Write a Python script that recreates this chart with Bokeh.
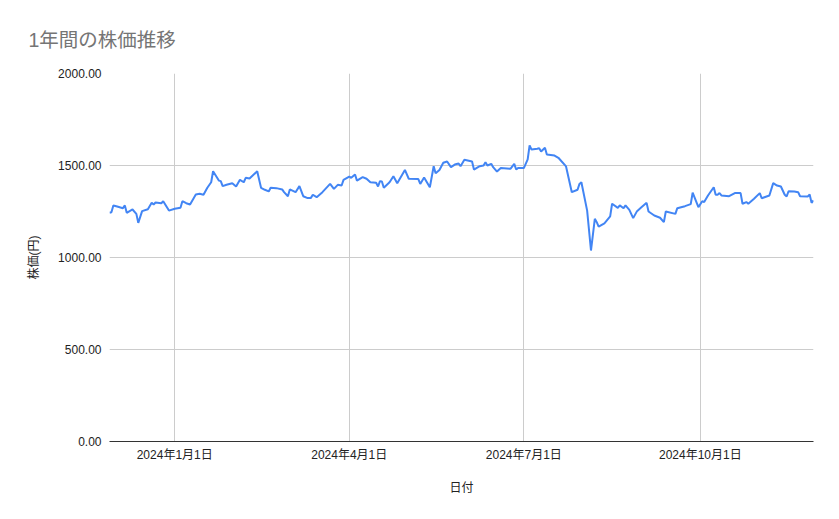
import pandas as pd
from bokeh.plotting import figure
from bokeh.models import Range1d, FixedTicker, CustomJSTickFormatter, NumeralTickFormatter
from bokeh.embed import file_html
from bokeh.resources import INLINE

# 読み取った終値 (日付, 株価)
dates = [
    "2023-11-28", "2023-11-29", "2023-11-30", "2023-12-02", "2023-12-05", "2023-12-06",
    "2023-12-07", "2023-12-10", "2023-12-12", "2023-12-13", "2023-12-15", "2023-12-18",
    "2023-12-20", "2023-12-21", "2023-12-22", "2023-12-25", "2023-12-26", "2023-12-29",
    "2024-01-01", "2024-01-04", "2024-01-05", "2024-01-07", "2024-01-09", "2024-01-12",
    "2024-01-14", "2024-01-16", "2024-01-18", "2024-01-20", "2024-01-21", "2024-01-24",
    "2024-01-25", "2024-01-26", "2024-01-28", "2024-01-31", "2024-02-02", "2024-02-04",
    "2024-02-06", "2024-02-07", "2024-02-09", "2024-02-13", "2024-02-15", "2024-02-17",
    "2024-02-19", "2024-02-20", "2024-02-23", "2024-02-26", "2024-02-27", "2024-02-29",
    "2024-03-01", "2024-03-04", "2024-03-06", "2024-03-08", "2024-03-10", "2024-03-12",
    "2024-03-13", "2024-03-15", "2024-03-18", "2024-03-22", "2024-03-24", "2024-03-26",
    "2024-03-28", "2024-03-29", "2024-04-01", "2024-04-02", "2024-04-04", "2024-04-05",
    "2024-04-08", "2024-04-10", "2024-04-12", "2024-04-15", "2024-04-16", "2024-04-17",
    "2024-04-18", "2024-04-19", "2024-04-22", "2024-04-24", "2024-04-26", "2024-04-30",
    "2024-05-02", "2024-05-07", "2024-05-08", "2024-05-10", "2024-05-13", "2024-05-15",
    "2024-05-16", "2024-05-18", "2024-05-20", "2024-05-22", "2024-05-24", "2024-05-26",
    "2024-05-28", "2024-05-29", "2024-05-31", "2024-06-04", "2024-06-05", "2024-06-08",
    "2024-06-10", "2024-06-11", "2024-06-12", "2024-06-14", "2024-06-15", "2024-06-17",
    "2024-06-19", "2024-06-24", "2024-06-26", "2024-06-27", "2024-06-28", "2024-07-01",
    "2024-07-03", "2024-07-04", "2024-07-05", "2024-07-08", "2024-07-09", "2024-07-10",
    "2024-07-12", "2024-07-13", "2024-07-17", "2024-07-19", "2024-07-23", "2024-07-26",
    "2024-07-29", "2024-07-30", "2024-07-31", "2024-08-03", "2024-08-05", "2024-08-07",
    "2024-08-08", "2024-08-09", "2024-08-12", "2024-08-15", "2024-08-16", "2024-08-19",
    "2024-08-20", "2024-08-22", "2024-08-23", "2024-08-25", "2024-08-27", "2024-08-29",
    "2024-08-31", "2024-09-03", "2024-09-04", "2024-09-07", "2024-09-10", "2024-09-12",
    "2024-09-13", "2024-09-18", "2024-09-19", "2024-09-23", "2024-09-26", "2024-09-27",
    "2024-09-30", "2024-10-02", "2024-10-03", "2024-10-05", "2024-10-08", "2024-10-09",
    "2024-10-10", "2024-10-11", "2024-10-12", "2024-10-16", "2024-10-19", "2024-10-22",
    "2024-10-23", "2024-10-25", "2024-10-26", "2024-10-29", "2024-11-01", "2024-11-02",
    "2024-11-06", "2024-11-08", "2024-11-10", "2024-11-12", "2024-11-14", "2024-11-15",
    "2024-11-16", "2024-11-19", "2024-11-21", "2024-11-22", "2024-11-26", "2024-11-27",
    "2024-11-28", "2024-11-29",
]
prices = [
    1243, 1246, 1283, 1277, 1268, 1283,
    1243, 1261, 1237, 1188, 1252, 1262,
    1297, 1288, 1299, 1295, 1306, 1255,
    1265, 1270, 1306, 1295, 1288, 1342,
    1346, 1341, 1379, 1409, 1469, 1418,
    1415, 1388, 1395, 1404, 1386, 1422,
    1409, 1433, 1429, 1469, 1379, 1368,
    1359, 1379, 1377, 1370, 1355, 1333,
    1370, 1355, 1388, 1333, 1324, 1324,
    1341, 1328, 1355, 1400, 1373, 1395,
    1391, 1422, 1440, 1433, 1451, 1418,
    1437, 1428, 1409, 1406, 1386, 1415,
    1413, 1379, 1409, 1442, 1404, 1476,
    1428, 1426, 1400, 1435, 1382, 1496,
    1458, 1476, 1515, 1522, 1491, 1505,
    1511, 1496, 1531, 1522, 1478, 1496,
    1500, 1518, 1500, 1509, 1491, 1467,
    1486, 1482, 1509, 1478, 1487, 1486,
    1533, 1609, 1587, 1591, 1594, 1576,
    1596, 1560, 1554, 1542, 1495, 1355,
    1368, 1400, 1409, 1255, 1038, 1210,
    1192, 1168, 1186, 1223, 1292, 1270,
    1283, 1268, 1283, 1259, 1214, 1252,
    1270, 1297, 1250, 1228, 1216, 1192,
    1250, 1237, 1268, 1279, 1290, 1352,
    1274, 1306, 1301, 1337, 1382, 1341,
    1341, 1350, 1337, 1333, 1350, 1350,
    1292, 1301, 1292, 1319, 1350, 1322,
    1337, 1404, 1391, 1386, 1341, 1332,
    1360, 1359, 1355, 1333, 1332, 1342,
    1297, 1310,
]

tick_dates = ["2024-01-01", "2024-04-01", "2024-07-01", "2024-10-01"]
y_ticks = [0, 500, 1000, 1500, 2000]

x = pd.to_datetime(dates)
font = "Liberation Sans, Noto Sans CJK JP"

p = figure(width=835, height=515, x_axis_type="datetime",
           output_backend="svg", toolbar_location=None,
           title="1年間の株価推移",
           x_range=Range1d(x[0], x[-1]), y_range=Range1d(0, 2000),
           min_border_left=109, min_border_right=22,
           min_border_top=73, min_border_bottom=74)
p.outline_line_color = None
p.background_fill_color = "white"
p.border_fill_color = "white"

p.title.text_font = font
p.title.text_font_size = "19.5px"
p.title.text_font_style = "normal"
p.title.text_color = "#757575"
p.title.align = "left"
p.title.offset = -81
p.title.standoff = 46

p.line(x, prices, color="#4285f4", line_width=2)

p.xaxis.ticker = FixedTicker(ticks=[pd.Timestamp(d).value // 10**6 for d in tick_dates])
p.xaxis.formatter = CustomJSTickFormatter(code="""
    const d = new Date(tick);
    return d.getUTCFullYear() + '年' + (d.getUTCMonth() + 1) + '月' + d.getUTCDate() + '日';
""")
p.yaxis.ticker = FixedTicker(ticks=y_ticks)
p.yaxis.formatter = NumeralTickFormatter(format="0.00")

for ax in (p.xaxis, p.yaxis):
    ax.major_tick_line_color = None
    ax.minor_tick_line_color = None
    ax.major_label_text_font = font
    ax.major_label_text_font_size = "12px"
    ax.major_label_text_color = "#222222"
    ax.axis_label_text_font = font
    ax.axis_label_text_font_size = "12px"
    ax.axis_label_text_font_style = "normal"
    ax.axis_label_text_color = "#222222"

p.xaxis.axis_label = "日付"
p.xaxis.axis_line_color = "#333333"
p.xaxis.major_label_standoff = 0
p.xaxis.axis_label_standoff = 16

p.yaxis.axis_label = "株価(円)"
p.yaxis.axis_line_color = None
p.yaxis.major_label_standoff = 2
p.yaxis.axis_label_standoff = 14

p.xgrid.grid_line_color = "#cccccc"
p.ygrid.grid_line_color = "#cccccc"

open("out.html", "w").write(file_html(p, INLINE))
